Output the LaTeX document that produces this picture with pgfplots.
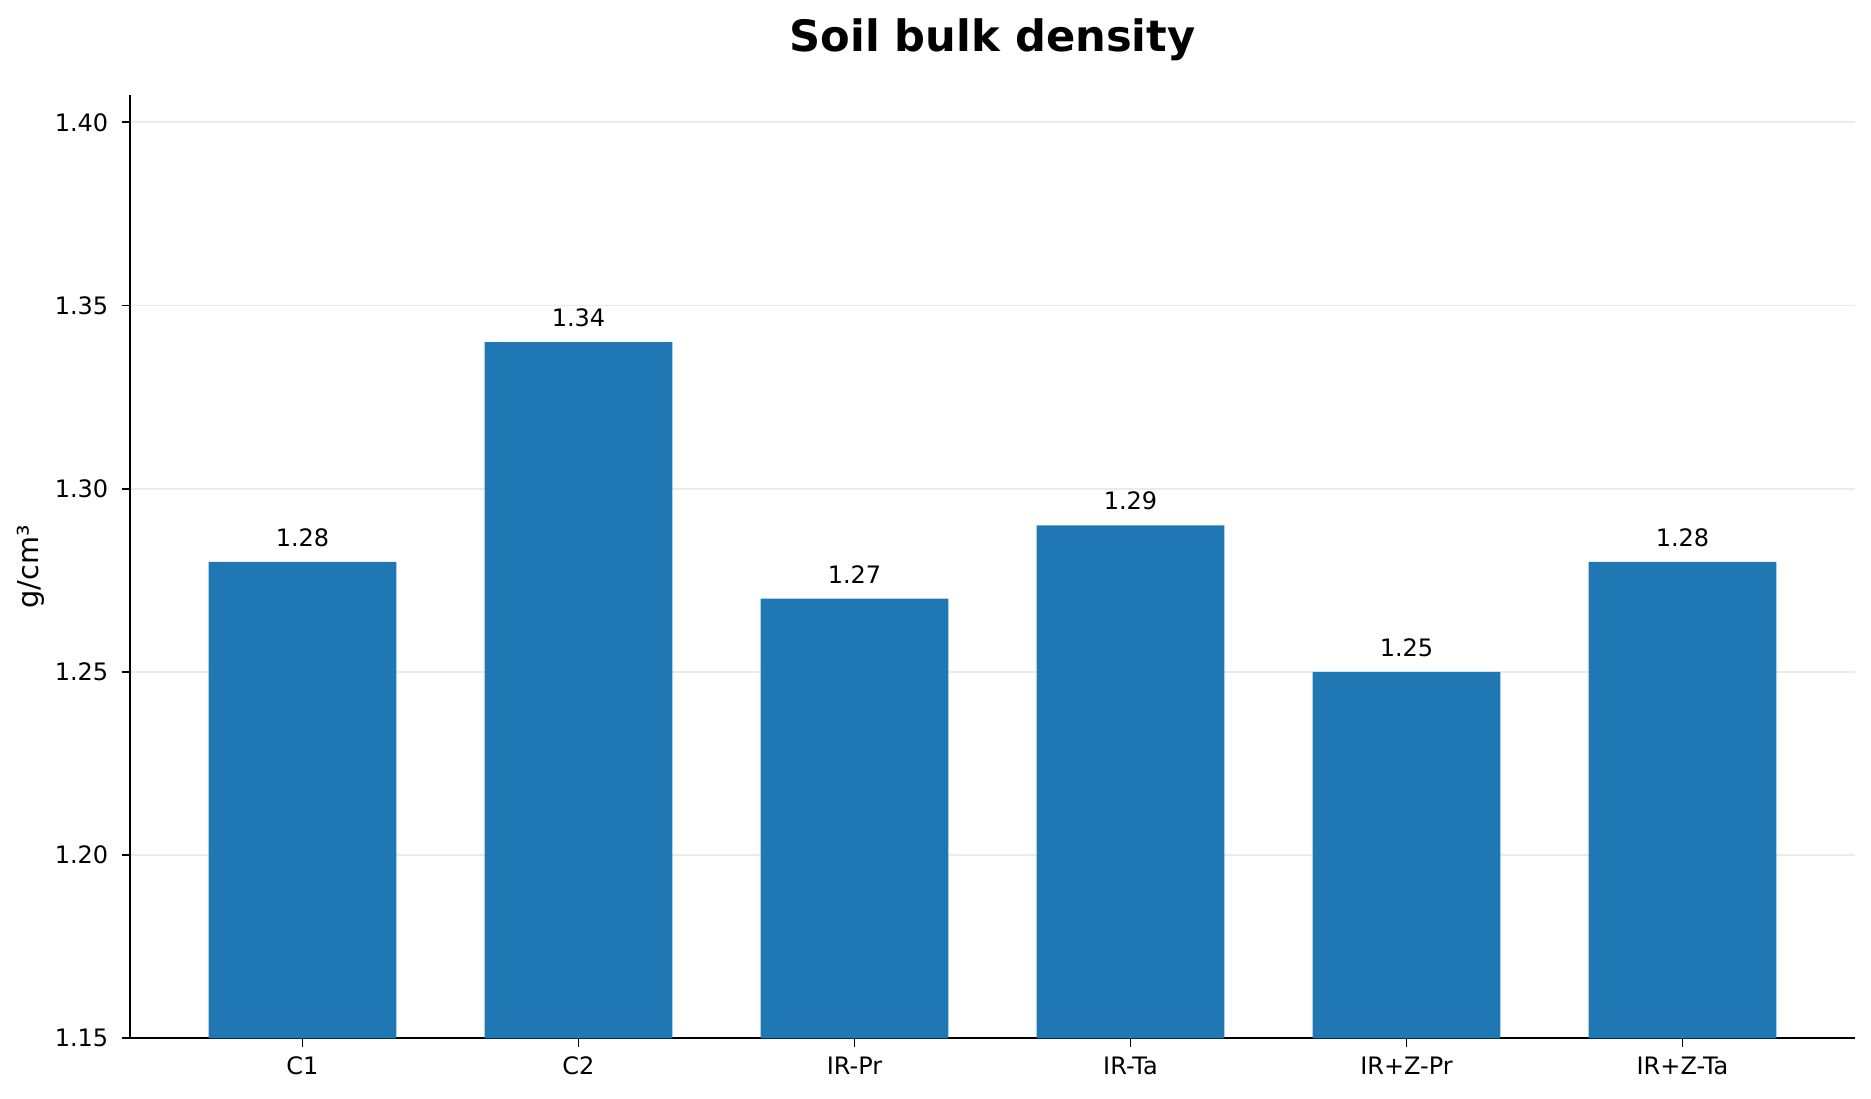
\documentclass[border=0pt]{standalone}
\usepackage{fontspec}
\setmainfont{DejaVu Sans}
\usepackage{pgfplots}
\pgfplotsset{compat=1.18}

\definecolor{barblue}{HTML}{1F77B4}
\definecolor{gridgray}{HTML}{EBEBEB}

\begin{document}
\begin{tikzpicture}
\path[use as bounding box] (0,0) rectangle (935.5pt,549pt);
\begin{axis}[%
  at={(65pt,29.85pt)}, anchor=south west,
  scale only axis,
  width=862.5pt, height=471.65pt,
  /pgf/number format/assume math mode=true,
  font=\fontsize{12pt}{14pt}\selectfont,
  % x axis
  xmin=-0.625, xmax=5.625,
  xtick={0,1,2,3,4,5},
  xticklabels={C1,C2,IR-Pr,IR-Ta,IR+Z-Pr,IR+Z-Ta},
  xticklabel style={anchor=base, inner sep=0pt, yshift=-13.7pt},
  % y axis
  ymin=1.15, ymax=1.40745,
  ytick={1.15,1.20,1.25,1.30,1.35,1.40},
  yticklabel style={anchor=east, inner sep=0pt, xshift=-6.5pt,
    /pgf/number format/fixed, /pgf/number format/fixed zerofill,
    /pgf/number format/precision=2},
  ylabel={g/cm³},
  ylabel style={at={(axis description cs:-0.0533,0.5)}, anchor=base,
    font=\fontsize{14.4pt}{17pt}\selectfont},
  title={Soil bulk density},
  title style={at={(axis description cs:0.5,1)}, anchor=base, yshift=15.5pt,
    font=\fontsize{21.6pt}{26pt}\selectfont\bfseries},
  % lines and ticks
  axis x line*=bottom, axis y line*=left,
  axis line style={-, line width=0.96pt, black},
  tick pos=left, tick align=outside,
  major tick length=4.2pt,
  every tick/.style={black, line width=0.96pt},
  ymajorgrids,
  grid style={gridgray, line width=0.96pt},
  % bars
  ybar, bar width=0.68,
  nodes near coords,
  nodes near coords style={anchor=base, inner sep=0pt, yshift=7.8pt,
    font=\fontsize{12pt}{14pt}\selectfont,
    /pgf/number format/fixed, /pgf/number format/fixed zerofill,
    /pgf/number format/precision=2},
]
\addplot[fill=barblue, draw=none] coordinates {
  (0, 1.28)
  (1, 1.34)
  (2, 1.27)
  (3, 1.29)
  (4, 1.25)
  (5, 1.28)
};
\end{axis}
\end{tikzpicture}
\end{document}
